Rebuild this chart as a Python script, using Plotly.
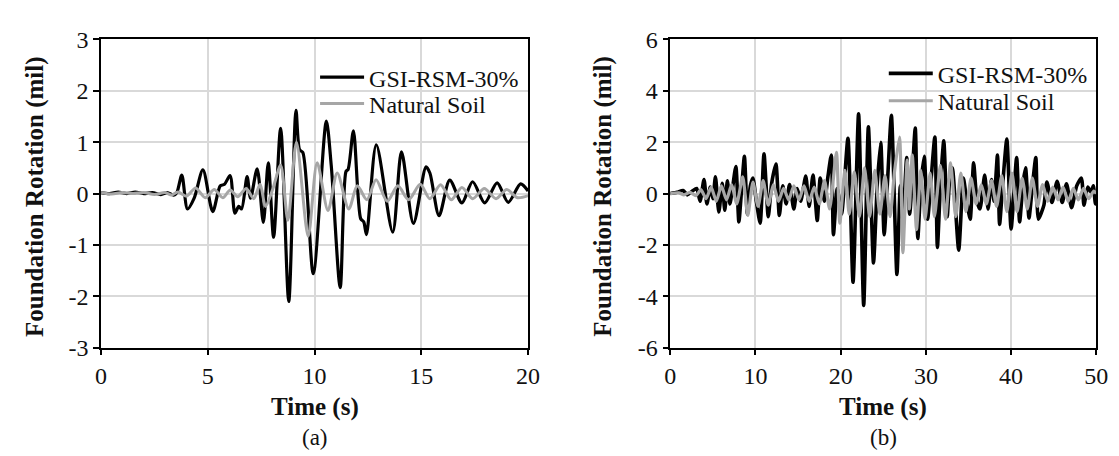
import plotly.graph_objects as go

# ---------------- data ----------------
# (a) 0-20 s
t_a_rsm = [0, 0.4, 0.8, 1.2, 1.6, 2.0, 2.4, 2.8, 3.1, 3.4, 3.55, 3.78, 4.05, 4.36, 4.77, 5.23, 5.58, 5.78,
           6.04, 6.27, 6.45, 6.58, 6.84, 7.0, 7.31, 7.6, 7.83, 8.08, 8.41, 8.79, 9.13, 9.3, 9.45, 9.94,
           10.55, 10.78, 11.2, 11.47, 11.57, 11.82, 12.16, 12.3, 12.43, 12.89, 13.66, 14.07, 14.63, 15.22,
           15.4, 15.83, 16.33, 16.9, 17.4, 17.97, 18.55, 19.07, 19.65, 20.0]
v_a_rsm = [0.02, 0.0, 0.03, 0.0, 0.03, 0.0, 0.02, -0.02, 0.02, -0.03, 0.02, 0.36, -0.3, -0.09, 0.46, -0.35, 0.15, 0.18,
           0.35, -0.38, -0.25, -0.3, 0.33, -0.09, 0.48, -0.56, 0.6, -0.85, 1.27, -2.1, 1.62, 0.85, 0.8, -1.56,
           1.41, 0.55, -1.83, 0.43, 0.47, 1.22, -0.49, -0.55, -0.8, 0.95, -0.75, 0.81, -0.58, 0.52,
           0.4, -0.43, 0.26, -0.18, 0.23, -0.18, 0.21, -0.17, 0.19, 0.05]

t_a_nat = [0, 0.5, 1.0, 1.5, 2.0, 2.5, 3.0, 3.3, 3.6, 4.0, 4.43, 4.88, 5.3, 5.7, 6.05, 6.4, 6.8, 7.15, 7.45,
           7.7, 8.05, 8.41, 8.75, 9.15, 9.7, 10.12, 10.63, 11.06, 11.6, 12.0, 12.45, 12.88, 13.4, 13.9, 14.4,
           14.95, 15.4, 15.9, 16.4, 16.9, 17.4, 17.95, 18.5, 19.0, 19.5, 20.0]
v_a_nat = [0.02, -0.01, 0.02, 0.0, 0.02, -0.02, 0.02, -0.03, 0.03, -0.05, 0.11, -0.08, 0.08, -0.08, 0.07, -0.06, 0.1, -0.1, 0.18,
           -0.25, 0.1, 0.55, -0.52, 1.0, -0.83, 0.6, -0.33, 0.4, -0.3, 0.15, -0.12, 0.27, -0.15, 0.15, -0.12,
           0.18, -0.1, 0.17, -0.12, 0.12, -0.1, 0.1, -0.1, 0.08, -0.08, -0.04]

# (b) 0-50 s
t_b_rsm = [0, 0.8, 1.5, 2.0, 2.6, 3.1, 3.5, 3.96, 4.3, 4.7, 5.0, 5.3, 5.7, 6.1, 6.4, 6.7, 7.0, 7.3, 7.7, 8.05,
           8.4, 8.7, 9.05, 9.4, 9.7, 10.1, 10.55, 11.0, 11.5, 11.9, 12.4, 12.8, 13.2, 13.6, 14.0, 14.5, 14.9,
           15.3, 15.9, 16.3, 16.75, 17.25, 17.6, 18.1, 18.5, 18.9, 19.15, 19.6, 20.1, 20.85, 21.45, 22.1,
           22.7, 23.25, 23.85, 24.3, 24.7, 25.1, 25.5, 25.95, 26.6, 27.0, 27.3, 27.75, 28.1, 28.75, 29.05,
           29.4, 29.8, 30.2, 30.6, 31.05, 31.35, 31.7, 32.1, 32.5, 32.8, 33.1, 33.85, 34.4, 34.8, 35.2, 35.6,
           36.0, 36.35, 36.9, 37.3, 37.7, 38.0, 38.4, 38.65, 39.0, 39.5, 40.0, 40.65, 41.0, 41.4, 41.7, 42.1,
           42.5, 42.9, 43.2, 43.85, 44.2, 44.8, 45.4, 46.0, 46.5, 47.1, 47.7, 48.25, 48.55, 49.0, 49.4,
           49.65, 49.9, 50.0]
v_b_rsm = [0, 0.05, 0.12, -0.05, 0.1, 0.2, -0.3, 0.55, -0.4, 0.25, -0.2, 0.65, -0.72, 0.4, -0.65, 0.5, -0.4, 0.2, 1.05, -1.1,
           0.3, 1.45, -0.8, 0.3, 0.6, -0.3, -1.15, 1.55, -0.9, 0.4, 1.15, -0.85, 0.3, -0.4, 0.35, -0.6, 0.2,
           -0.3, 0.68, -0.5, 0.72, -1.05, 0.6, -0.3, 0.65, 1.5, -1.6, 0.2, -0.8, 2.15, -3.45, 3.1,
           -4.35, 2.6, -2.7, 0.4, 2.0, -1.6, 0.5, 3.05, -3.15, 0.3, -1.0, 1.4, -0.8, 2.55, -1.75,
           0.3, 1.45, -1.0, 0.5, 2.2, -2.1, 0.3, 2.05, -0.9, 0.6, 1.0, -2.2, 0.6, -0.3, -1.0, 1.2,
           -0.3, -0.6, 0.72, -0.6, 0.55, -0.3, 1.5, -1.2, 0.3, 2.12, -1.38, 1.4, -1.1, 0.4, 1.0, -0.95,
           0.3, 1.4, -1.0, -0.45, 0.45, -0.35, 0.48, -0.35, 0.38, -0.55, 0.3, 0.6, -0.45, 0.25, 0.05,
           0.3, -0.4, -0.3]

t_b_nat = [0, 1.0, 1.6, 2.3, 3.0, 3.6, 4.2, 4.8, 5.4, 6.0, 6.6, 7.2, 7.8, 8.5, 9.1, 9.7, 10.3, 10.9, 11.5,
           12.1, 12.7, 13.3, 13.9, 14.5, 15.1, 15.7, 16.3, 16.9, 17.5, 18.1, 18.7, 19.5, 19.9, 20.5, 21.0,
           21.6, 22.2, 22.8, 23.4, 24.0, 24.6, 25.2, 25.8, 26.3, 26.9, 27.3, 27.8, 28.05, 28.4, 28.9, 29.4,
           29.9, 30.5, 31.0, 31.7, 32.3, 32.9, 33.5, 34.1, 34.7, 35.3, 35.9, 36.5, 37.1, 37.7, 38.3, 38.9,
           39.5, 40.1, 40.7, 41.3, 41.9, 42.5, 43.1, 43.7, 44.3, 44.9, 45.5, 46.1, 46.7, 47.3, 47.9, 48.5,
           49.1, 49.7, 50.0]
v_b_nat = [0, 0.03, -0.05, 0.05, -0.08, 0.15, -0.2, 0.25, -0.3, 0.3, -0.25, 0.35, -0.4, 0.65, -0.85, 0.45, -0.5, 0.5, -0.45,
           0.35, -0.3, 0.2, -0.25, 0.3, -0.25, 0.3, -0.3, 0.25, -0.4, 0.5, -0.6, 1.6, -1.15, 0.9, -0.8,
           0.85, -0.9, 1.0, -0.9, 0.9, -0.8, 0.7, -0.9, 0.8, 2.2, -2.3, 1.3, -0.6, 1.5, -1.4, 0.9,
           -1.0, 0.8, -0.9, 1.1, -1.0, 1.2, -0.9, 0.8, -0.7, 0.6, -0.4, 0.35, -0.4, 0.5, -0.5, 0.7,
           -0.7, 0.8, -0.7, 0.6, -0.6, 0.6, -0.5, 0.35, -0.3, 0.25, -0.25, 0.25, -0.3, 0.2, -0.25, 0.2,
           -0.2, 0.1, 0.0]

series_names = ["GSI-RSM-30%", "Natural Soil"]
x_ticks_a = [0, 5, 10, 15, 20]
y_ticks_a = [-3, -2, -1, 0, 1, 2, 3]
x_ticks_b = [0, 10, 20, 30, 40, 50]
y_ticks_b = [-6, -4, -2, 0, 2, 4, 6]
x_title = "Time (s)"
y_title = "Foundation Rotation (mil)"
captions = ["(a)", "(b)"]

# ---------------- style ----------------
FONT = "Liberation Serif"
TXT = "#111111"
BLACK = "#000000"
GRAY = "#a6a6a6"
GRID = "#d9d9d9"
W, H = 1119, 456


def px_x(p):
    return p / W


def px_y(p):
    return (H - p) / H


dom_a = [px_x(88.5), px_x(522.5)]
dom_b = [px_x(667), px_x(1100)]
ydom = [px_y(346.5), px_y(19.5)]

fig = go.Figure()

# black series first, gray drawn on top (as in reference)
fig.add_trace(go.Scatter(x=t_a_rsm, y=v_a_rsm, mode="lines", name=series_names[0],
                         line=dict(color=BLACK, width=3.2, shape="spline", smoothing=0.8),
                         xaxis="x", yaxis="y", legend="legend"))
fig.add_trace(go.Scatter(x=t_a_nat, y=v_a_nat, mode="lines", name=series_names[1],
                         line=dict(color=GRAY, width=3, shape="spline", smoothing=0.8),
                         xaxis="x", yaxis="y", legend="legend2"))
fig.add_trace(go.Scatter(x=t_b_rsm, y=v_b_rsm, mode="lines", name=series_names[0],
                         line=dict(color=BLACK, width=3.6, shape="spline", smoothing=0.6),
                         xaxis="x2", yaxis="y2", legend="legend3"))
fig.add_trace(go.Scatter(x=t_b_nat, y=v_b_nat, mode="lines", name=series_names[1],
                         line=dict(color=GRAY, width=3.2, shape="spline", smoothing=0.6),
                         xaxis="x2", yaxis="y2", legend="legend4"))


def axis_common():
    return dict(showline=True, linecolor=BLACK, linewidth=1.5, mirror=True, ticks="outside",
                ticklen=6, tickwidth=1.5, tickcolor=BLACK, showgrid=True, gridcolor=GRID, gridwidth=1.5,
                zeroline=False, tickfont=dict(family=FONT, size=24, color=TXT), tickmode="array")


def lab(v):
    return [str(x) for x in v]


def leg(xp, yp):
    return dict(x=px_x(xp), y=px_y(yp), xanchor="left", yanchor="middle", bgcolor="rgba(0,0,0,0)",
                font=dict(family=FONT, size=24, color=TXT), itemwidth=44, borderwidth=0)


fig.update_layout(
    width=W, height=H, autosize=False,
    margin=dict(l=0, r=0, t=0, b=0),
    paper_bgcolor="white", plot_bgcolor="white",
    xaxis=dict(domain=dom_a, range=[0, 20], tickvals=x_ticks_a, ticktext=lab(x_ticks_a), anchor="y", **axis_common()),
    yaxis=dict(domain=ydom, range=[-3, 3], tickvals=y_ticks_a, ticktext=lab(y_ticks_a), anchor="x", **axis_common()),
    xaxis2=dict(domain=dom_b, range=[0, 50], tickvals=x_ticks_b, ticktext=lab(x_ticks_b), anchor="y2", **axis_common()),
    yaxis2=dict(domain=ydom, range=[-6, 6], tickvals=y_ticks_b, ticktext=lab(y_ticks_b), anchor="x2", **axis_common()),
    legend=leg(306, 60), legend2=leg(306, 88),
    legend3=leg(884, 56), legend4=leg(884, 85),
    showlegend=True,
)

ann = []
for dom, cap in [(dom_a, captions[0]), (dom_b, captions[1])]:
    xc = (dom[0] + dom[1]) / 2
    ann.append(dict(text="<b>" + x_title + "</b>", x=xc, y=px_y(409), xref="paper", yref="paper",
                    showarrow=False, font=dict(family=FONT, size=25, color=TXT), xanchor="center", yanchor="middle"))
    ann.append(dict(text=cap, x=xc, y=px_y(442), xref="paper", yref="paper",
                    showarrow=False, font=dict(family=FONT, size=23, color=TXT), xanchor="center", yanchor="middle"))
for xc in [px_x(22), px_x(599)]:
    ann.append(dict(text="<b>" + y_title + "</b>", x=xc, y=(ydom[0] + ydom[1]) / 2 - 3 / H, xref="paper",
                    yref="paper", showarrow=False, textangle=-90, font=dict(family=FONT, size=25, color=TXT),
                    xanchor="center", yanchor="middle"))
fig.update_layout(annotations=ann)

fig.write_html("out.html")
